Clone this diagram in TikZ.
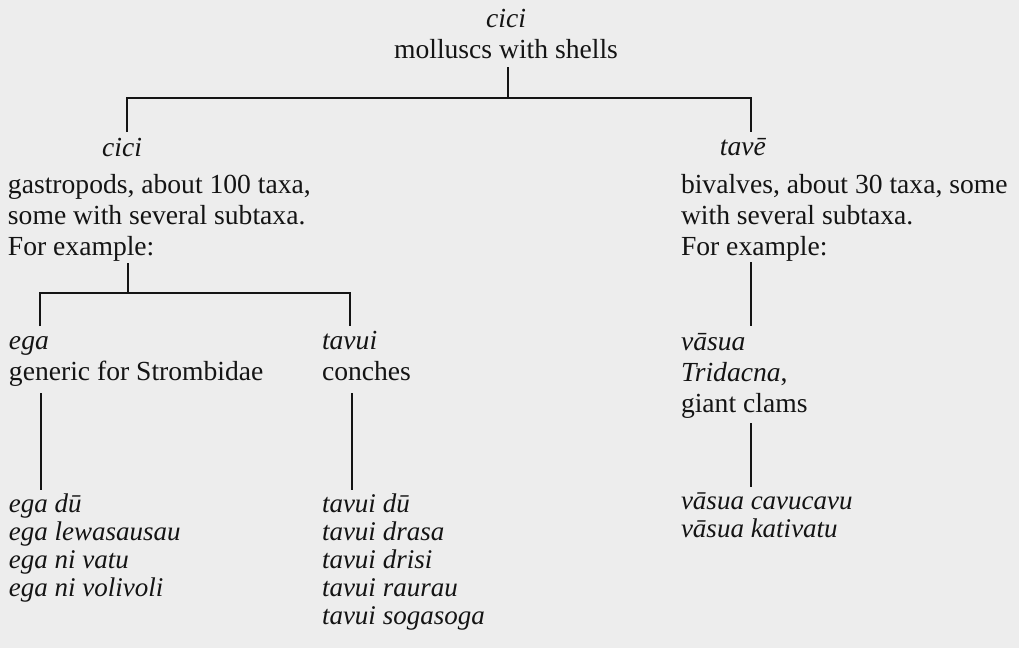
\documentclass[tikz,border=0pt]{standalone}
\usepackage{fontspec}
\setmainfont{Liberation Serif}
\definecolor{bg}{RGB}{237,237,237}
\definecolor{ink}{RGB}{20,20,20}
\begin{document}
\begin{tikzpicture}[x=1pt,y=-1pt,
  lbl/.style={inner sep=0pt,outer sep=0pt,text=ink,font=\fontsize{27.6}{31}\selectfont},
  lst/.style={inner sep=0pt,outer sep=0pt,text=ink,font=\fontsize{27}{28}\selectfont\itshape,align=left,anchor=base west},
  tree/.style={draw=ink,line width=1.9pt}]
\path[fill=bg,use as bounding box] (0,0) rectangle (1019,648);
% texts (base anchor = baseline of the last line)
\node[lbl,align=center,anchor=base] (top) at (506,58) {\textit{cici}\\molluscs with shells};
\node[lbl,anchor=base] (lcici) at (122,156) {\textit{cici}};
\node[lbl,align=left,anchor=base west] (ldesc) at (8,255) {gastropods, about 100 taxa,\\some with several subtaxa.\\For example:};
\node[lbl,anchor=base] (rtave) at (743,155) {\textit{tavē}};
\node[lbl,align=left,anchor=base west] (rdesc) at (681,255) {bivalves, about 30 taxa, some\\with several subtaxa.\\For example:};
\node[lbl,align=left,anchor=base west] (ega) at (9,380) {\textit{ega}\\generic for Strombidae};
\node[lbl,align=left,anchor=base west] (tavui) at (322,380) {\textit{tavui}\\conches};
\node[lbl,align=left,anchor=base west] (vasua) at (681,412) {\textit{vāsua}\\\textit{Tridacna},\\giant clams};
\node[lst] (egalist) at (9,596) {ega dū\\ega lewasausau\\ega ni vatu\\ega ni volivoli};
\node[lst] (tavuilist) at (322,624) {tavui dū\\tavui drasa\\tavui drisi\\tavui raurau\\tavui sogasoga};
\node[lst] (vasualist) at (681,537) {vāsua cavucavu\\vāsua kativatu};
% junctions
\coordinate (topdrop) at (508,67);
\coordinate (topbar) at (508,98);
\coordinate (lciciTop) at (127,132);
\coordinate (rtaveTop) at (751,132);
\coordinate (ldescBot) at (128,263);
\coordinate (lbar) at (128,293);
\coordinate (egaTop) at (40,326);
\coordinate (tavuiTop) at (350,326);
\coordinate (rdescBot) at (751,262);
\coordinate (vasuaTop) at (751,326);
\coordinate (egaBot) at (41,393);
\coordinate (egalistTop) at (41,490);
\coordinate (tavuiBot) at (352,393);
\coordinate (tavuilistTop) at (352,490);
\coordinate (vasuaBot) at (751,423);
\coordinate (vasualistTop) at (751,487);
% connectors
\draw[tree] (topdrop) -- (topbar);
\draw[tree] (lciciTop) |- (topbar) -| (rtaveTop);
\draw[tree] (ldescBot) -- (lbar);
\draw[tree] (egaTop) |- (lbar) -| (tavuiTop);
\draw[tree] (rdescBot) -- (vasuaTop);
\draw[tree] (egaBot) -- (egalistTop);
\draw[tree] (tavuiBot) -- (tavuilistTop);
\draw[tree] (vasuaBot) -- (vasualistTop);
\end{tikzpicture}
\end{document}
